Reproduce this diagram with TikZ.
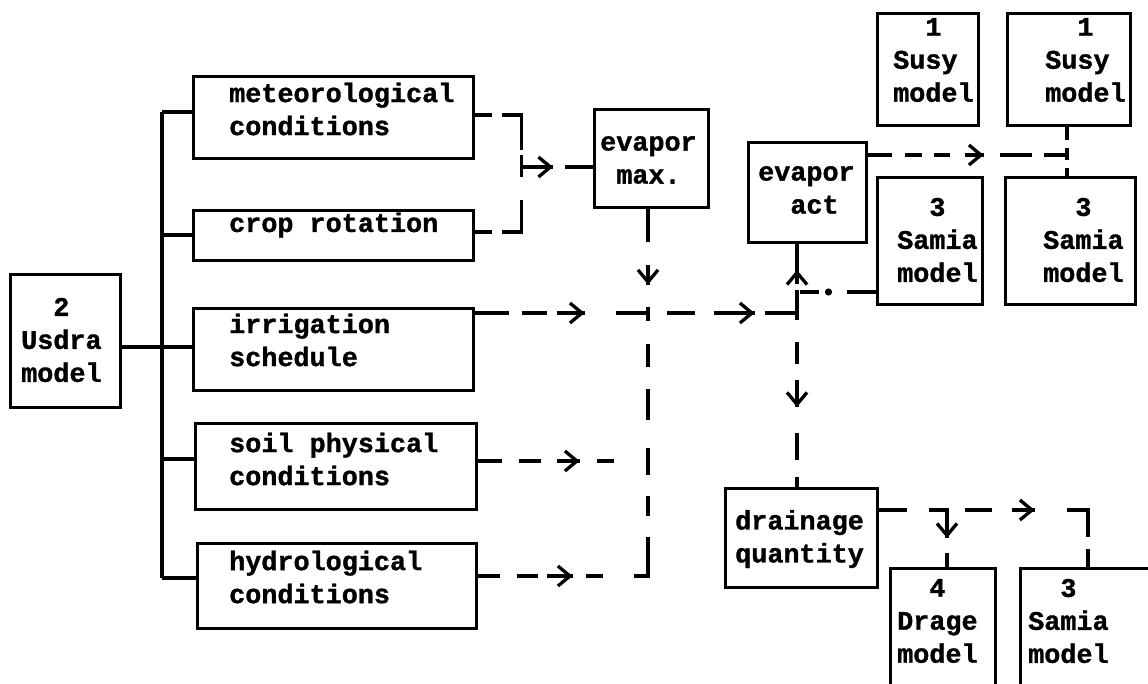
\documentclass[tikz,border=0pt]{standalone}
\usepackage{fontspec}
\setmonofont{Liberation Mono}[BoldFeatures={FakeBold=1.2}]
\usetikzlibrary{arrows.meta,decorations.markings}
\tikzset{
  box/.style={draw, rectangle, inner sep=0pt, line width=3pt},
  txt/.style={font=\ttfamily\bfseries\fontsize{26.8pt}{33pt}\selectfont,
              align=left, anchor=west, inner sep=0pt},
  link/.style={line width=3.3pt},
  mid/.style={postaction={decorate,decoration={markings,
      mark=at position #1 with {\arrow{Straight Barb[length=12pt,width=20pt]}}}}},
  dotat/.style={postaction={decorate,decoration={markings,
      mark=at position #1 with {\fill circle (3.6pt);}}}},
}
\begin{document}
\begin{tikzpicture}[x=1pt,y=-1pt]
\useasboundingbox (0,0) rectangle (1148,683);
\fill[white] (0,0) rectangle (1148,683);

% ---- boxes ----
\node[box, minimum width=110pt, minimum height=133pt] (usdra)  at (65,340.5)   {};
\node[box, minimum width=280pt, minimum height=82pt]  (meteo)  at (333,117)    {};
\node[box, minimum width=280pt, minimum height=50pt]  (crop)   at (333,235)    {};
\node[box, minimum width=280pt, minimum height=82pt]  (irr)    at (333,349)    {};
\node[box, minimum width=281pt, minimum height=86pt]  (soil)   at (335.5,466)  {};
\node[box, minimum width=279pt, minimum height=85pt]  (hydro)  at (336.5,585.5){};
\node[box, minimum width=114pt, minimum height=98pt]  (evmax)  at (651,158)    {};
\node[box, minimum width=118pt, minimum height=100pt] (evact)  at (807,192)    {};
\node[box, minimum width=101pt, minimum height=112pt] (susy1)  at (927.5,69)   {};
\node[box, minimum width=123pt, minimum height=112pt] (susy2)  at (1068.5,69)  {};
\node[box, minimum width=105pt, minimum height=127pt] (samia1) at (929.5,240.5){};
\node[box, minimum width=130pt, minimum height=127pt] (samia2) at (1070,240.5) {};
\node[box, minimum width=152pt, minimum height=99pt]  (drain)  at (801,537.5)  {};
\node[box, minimum width=105pt, minimum height=132pt] (drage)  at (942.5,634)  {};
\node[box, minimum width=140pt, minimum height=132pt] (samia3) at (1090,634)   {};

% ---- texts ----
\node[txt] (usdra-t)  at (21,340)   {\hphantom{Us}2\\Usdra\\model};
\node[txt] (meteo-t)  at (229,109)  {meteorological\\conditions};
\node[txt] (crop-t)   at (229,225)  {crop rotation};
\node[txt] (irr-t)    at (229,340)  {irrigation\\schedule};
\node[txt] (soil-t)   at (229,459)  {soil physical\\conditions};
\node[txt] (hydro-t)  at (229,577)  {hydrological\\conditions};
\node[txt] (evmax-t)  at (600,160)  {evapor\\\hphantom{e}max.};
\node[txt] (evact-t)  at (758,190)  {evapor\\\hphantom{ev}act};
\node[txt] (susy1-t)  at (893,60)   {\hphantom{mo}1\\Susy\\model};
\node[txt] (susy2-t)  at (1045,60)  {\hphantom{mo}1\\Susy\\model};
\node[txt] (samia1-t) at (897,240)  {\hphantom{Sa}3\\Samia\\model};
\node[txt] (samia2-t) at (1043,240) {\hphantom{Sa}3\\Samia\\model};
\node[txt] (drain-t)  at (735,539)  {drainage\\quantity};
\node[txt] (drage-t)  at (897,621)  {\hphantom{Dr}4\\Drage\\model};
\node[txt] (samia3-t) at (1028,621) {\hphantom{Sa}3\\Samia\\model};

% ---- solid tree from the Usdra model ----
\coordinate (bt) at (162,112);
\coordinate (bb) at (162,578);
\draw[link] (bt) -- (bb);
\draw[link] (bt) -- (meteo.west |- bt);
\draw[link] (bt |- crop.west) -- (crop.west);
\draw[link] ([yshift=-6.5pt]usdra.east) -- ([yshift=2pt]irr.west);
\draw[link] ([yshift=7pt]soil.west) -- ++(-33,0);
\draw[link] (bb) -- ([yshift=7.5pt]hydro.west);

% ---- junction points ----
\coordinate (mj) at (520,167);
\coordinate (J1) at (648,313);
\coordinate (J2) at (797,313);
\coordinate (J0) at (648,576);
\coordinate (Js) at (648,461);
\coordinate (Ja) at (800,292);
\coordinate (J3) at (1067,155);
\coordinate (Jd) at (1088,510);
\coordinate (Jb) at (947,510);

% ---- dashed flows ----
\draw[link, dash pattern=on 17pt off 10pt on 55pt off 5pt on 22pt off 23pt on 52pt off 10pt on 17pt]
  ([yshift=2pt]meteo.east) -- ++(47,0) |- ([yshift=3pt]crop.east);
\draw[link, dash pattern=on 33pt off 12pt on 29pt, mid=33pt] (mj) -- (evmax.west |- mj);
\draw[link, dash pattern=on 33pt off 23pt on 20pt off 22pt on 8pt, mid=76pt]
  (evmax.south -| J1) -- (J1);
\draw[link, dash pattern=on 34pt off 13pt on 25pt off 10pt on 28pt off 31pt on 34pt off 17pt on 28pt off 19pt on 41pt off 10pt on 34pt,
      mid=110pt, mid=280pt] (irr.east |- J1) -- (J1) -- (J2);
\draw[link, dash pattern=on 22pt off 17pt on 21pt off 9pt on 26pt off 13pt on 17pt off 31pt on 54pt off 21pt on 20pt off 21pt on 27pt off 28pt on 31pt off 22pt on 23pt off 23pt on 9pt,
      mid=95pt] (hydro.east |- J0) -- (J0) -- (J1);
\draw[link, dash pattern=on 24pt off 17pt on 22pt off 16pt on 23pt off 17pt on 17pt off 36pt, mid=102pt]
  (soil.east |- Js) -- (Js);
\draw[link, dash pattern=on 23pt off 6pt on 42pt, mid=43pt] (J2) -- (evact.south -| J2);
\draw[link, dash pattern=on 29pt off 28pt on 20pt, dotat=47pt, mid=76.5pt] (samia1.west |- Ja) -- (Ja);
\draw[link, dash pattern=on 7pt off 22pt on 22pt off 16pt on 27pt off 26pt on 27pt off 17pt on 11pt, mid=94pt]
  (J2) -- (drain.north -| J2);
\draw[link, dash pattern=on 24pt off 13pt on 17pt off 12pt on 16pt off 15pt on 19pt off 16pt on 32pt off 12pt on 25pt, mid=116pt]
  (evact.east |- J3) -- (J3);
\draw[link, dash pattern=on 13pt off 8pt on 12pt off 8pt on 11pt] (susy2.south -| J3) -- (samia2.north -| J3);
\draw[link, dash pattern=on 28pt off 22pt on 20pt off 16pt on 27pt off 20pt on 23pt off 32pt on 48pt off 12pt on 21pt, mid=156pt]
  (drain.east |- Jd) -- (Jd) -- (samia3.north -| Jd);
\draw[link, dash pattern=on 28pt off 15pt on 15pt, mid=28pt] (Jb) -- (drage.north -| Jb);
\end{tikzpicture}
\end{document}
